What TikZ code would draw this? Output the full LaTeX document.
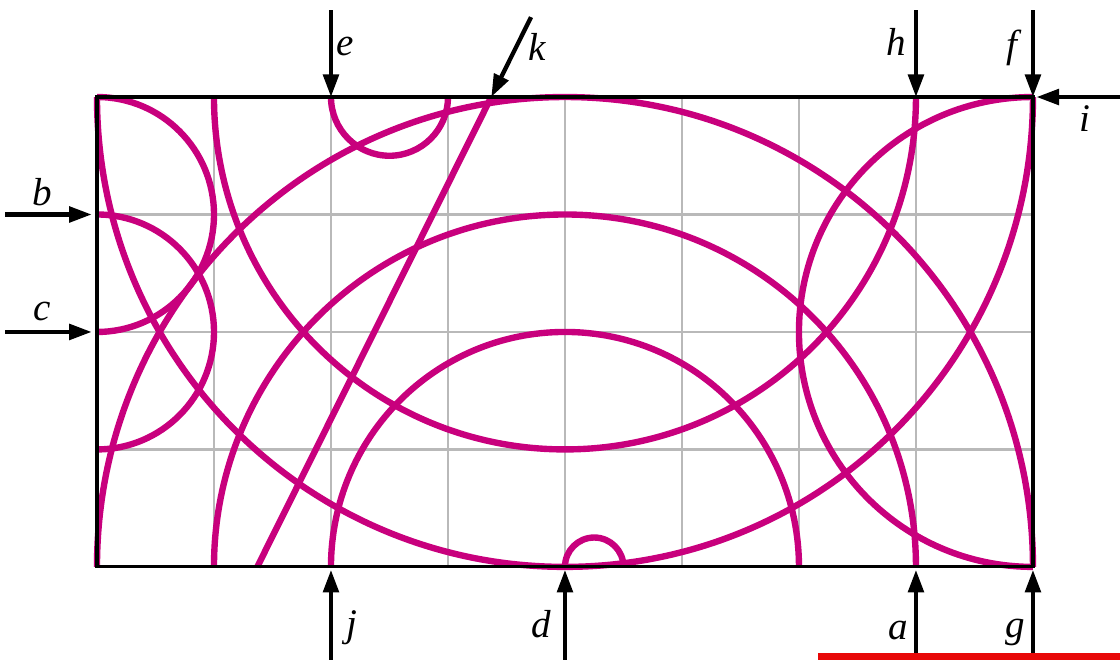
\documentclass[tikz,border=0pt]{standalone}
\usepackage{fontspec}
\setmainfont{Liberation Serif}
\usetikzlibrary{arrows.meta}

\definecolor{arcmag}{RGB}{200,0,125}
\definecolor{gridgray}{RGB}{185,185,185}
\definecolor{barred}{RGB}{232,8,8}

\begin{document}
\begin{tikzpicture}[x=2cm, y=2.008cm,
  curve/.style={arcmag, line width=3.1pt},
  inarrow/.style={line width=2.1pt, -{Triangle[length=11pt,width=7.5pt]}},
  lab/.style={font=\fontsize{19}{22}\selectfont\itshape, inner sep=0pt}]
\useasboundingbox (-0.829,-0.791) rectangle (8.744,4.826);

% Draw grid
\foreach \x in {1,...,7} {
  \draw[gridgray, line width=1.1pt] (\x,0) -- (\x,4);
}
\foreach \y in {1,2,3} {
  \draw[gridgray, line width=1.1pt] (0,\y) -- (8,\y);
}

% Draw the big arcs
\draw[curve] (0,4) arc[start angle=180, end angle=360, radius=4];
\draw[curve] (1,4) arc[start angle=180, end angle=360, radius=3];
\draw[curve] (0,0) arc[start angle=180, end angle=0, radius=4];
\draw[curve] (1,0) arc[start angle=180, end angle=0, radius=3];
\draw[curve] (2,0) arc[start angle=180, end angle=0, radius=2];

% Draw the side arcs
\draw[curve] (0,4) arc[start angle=90, end angle=-90, radius=1];
\draw[curve] (0,3) arc[start angle=90, end angle=-90, radius=1];
\draw[curve] (8,4) arc[start angle=90, end angle=270, radius=2];

% Draw the small arcs
\draw[curve] (2,4) arc[start angle=180, end angle=360, radius=0.5];
\draw[curve] (4,0) arc[start angle=180, end angle=0, radius=0.25];

% Straight path
\coordinate (k1) at (3.37,4);
\draw[curve] (1.37,0) -- (k1);

% Frame
\draw[line width=1.5pt] (0,0) rectangle (8,4);

% Arrows from above
\foreach \n/\x in {e/2, h/7, f/8} {
  \coordinate (\n0) at (\x,4.74);
  \coordinate (\n1) at (\x,4);
  \draw[inarrow] (\n0) -- (\n1);
}
\coordinate (k0) at (3.71,4.68);
\draw[inarrow] (k0) -- (k1);

% Arrows from below
\foreach \n/\x in {j/2, d/4, a/7, g/8} {
  \coordinate (\n0) at (\x,-0.8);
  \coordinate (\n1) at (\x,-0.025);
  \draw[inarrow] (\n0) -- (\n1);
}

% Arrows from the sides
\foreach \n/\y in {b/3, c/2} {
  \coordinate (\n0) at (-0.786,\y);
  \coordinate (\n1) at (-0.045,\y);
  \draw[inarrow] (\n0) -- (\n1);
}
\coordinate (i0) at (8.76,4);
\coordinate (i1) at (8.03,4);
\draw[inarrow] (i0) -- (i1);

% Labels
\node[lab] (le) at (2.12,4.43) {e};
\node[lab] (lk) at (3.76,4.43) {k};
\node[lab] (lh) at (6.83,4.47) {h};
\node[lab] (lf) at (7.82,4.42) {f};
\node[lab] (li) at (8.44,3.82) {i};
\node[lab] (lb) at (-0.47,3.19) {b};
\node[lab] (lc) at (-0.47,2.17) {c};
\node[lab] (lj) at (2.18,-0.52) {j};
\node[lab] (ld) at (3.80,-0.49) {d};
\node[lab] (la) at (6.85,-0.54) {a};
\node[lab] (lg) at (7.85,-0.56) {g};

% Bar at the lower edge
\fill[barred] (6.162,-0.732) rectangle (8.744,-0.791);

\end{tikzpicture}
\end{document}
